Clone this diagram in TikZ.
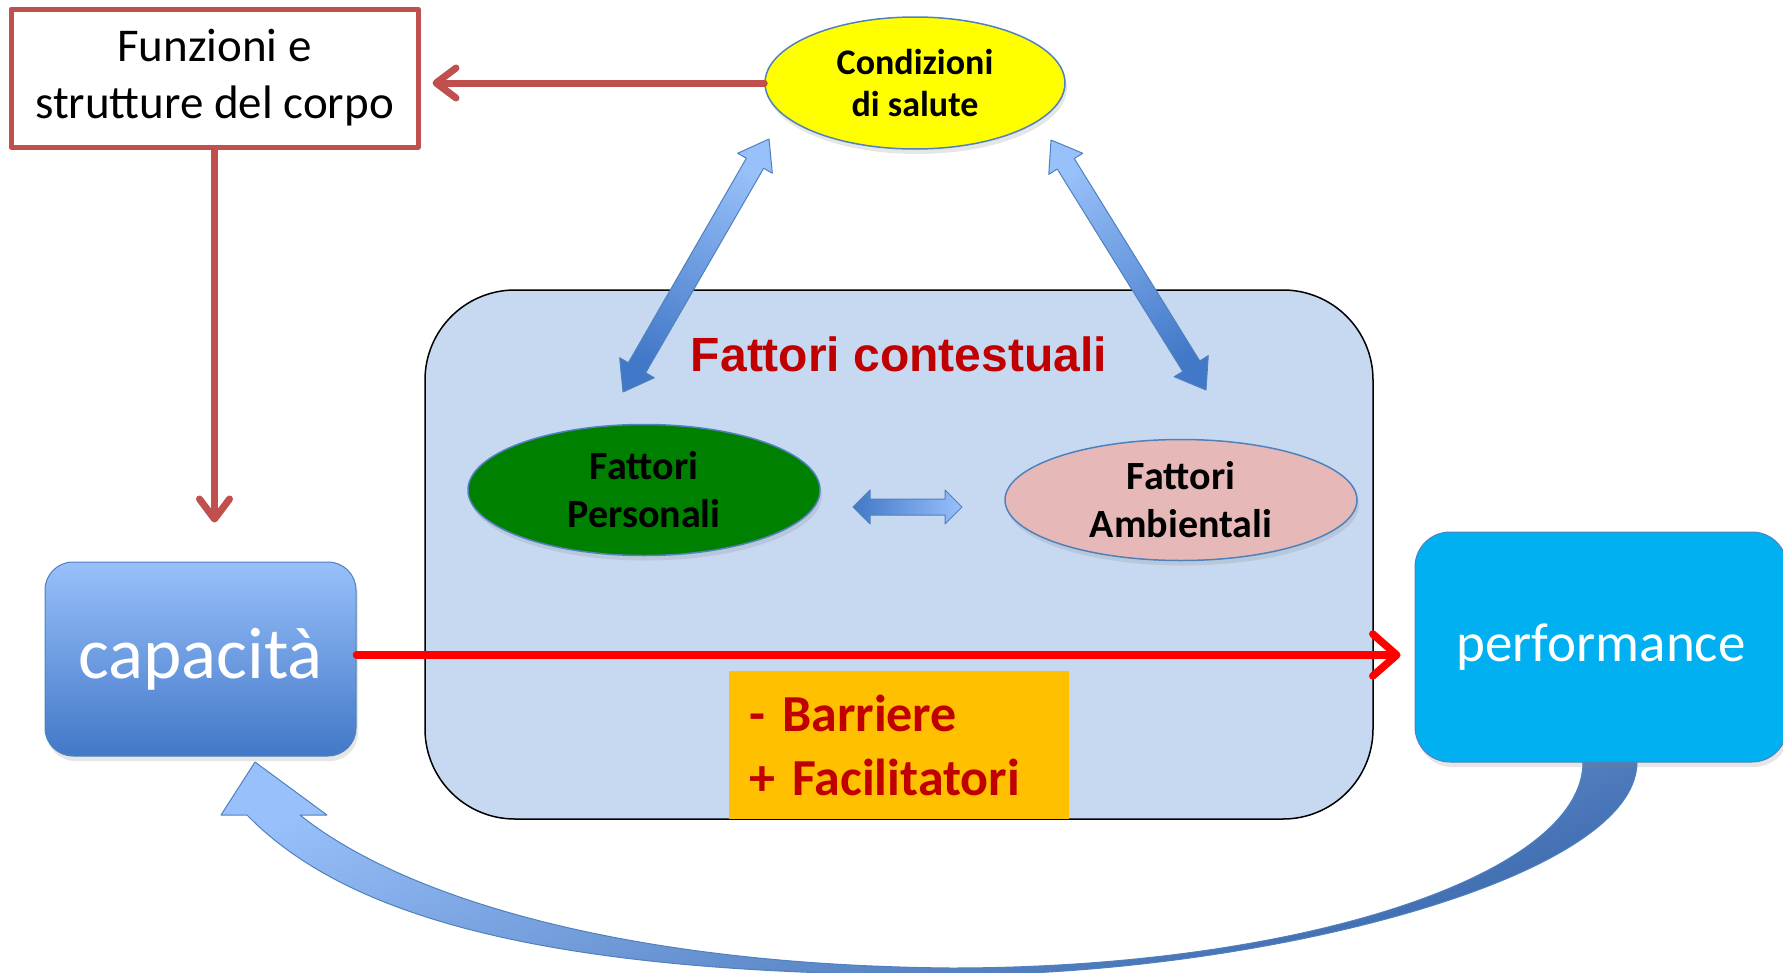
\documentclass[tikz,border=0pt]{standalone}
\usepackage{fontspec}
\setmainfont{Carlito}
\newfontfamily\arialfont{Liberation Sans}
\usetikzlibrary{shapes.geometric,arrows.meta,calc,shadows}
\definecolor{corpored}{RGB}{192,80,77}
\definecolor{bordo}{RGB}{79,129,189}
\definecolor{giallo}{RGB}{255,255,0}
\definecolor{verde}{RGB}{0,128,0}
\definecolor{rosa}{RGB}{230,185,184}
\definecolor{contesto}{RGB}{198,217,241}
\definecolor{rossoscuro}{RGB}{192,0,0}
\definecolor{arancio}{RGB}{255,192,0}
\definecolor{ciano}{RGB}{0,176,240}
\definecolor{bluchiaro}{RGB}{152,192,250}
\definecolor{bluscuro}{RGB}{66,120,200}
% freccia doppia: estremi, lunghezza punta, mezza punta, mezza asta, sfumatura
\newcommand\frecciadoppia[6]{%
  \coordinate (fa) at ($(#1)!#3pt!(#2)$);
  \coordinate (fb) at ($(#2)!#3pt!(#1)$);
  \draw[draw=bordo, line width=1pt, #6] (#1) -- ($(fa)!#4pt!90:(#2)$) -- ($(fa)!#5pt!90:(#2)$) -- ($(fb)!#5pt!-90:(#1)$) -- ($(fb)!#4pt!-90:(#1)$) -- (#2)
    -- ($(fb)!#4pt!90:(#1)$) -- ($(fb)!#5pt!90:(#1)$) -- ($(fa)!#5pt!-90:(#2)$) -- ($(fa)!#4pt!-90:(#2)$) -- cycle;
}
\begin{document}
\begin{tikzpicture}[x=1pt, y=-1pt, line join=round, line cap=round,
  ombra/.style={drop shadow={shadow xshift=2pt, shadow yshift=-5pt, opacity=.2}},
  corpobox/.style={draw=corpored, line width=5pt, fill=white, minimum width=407pt, minimum height=138pt, align=center, font=\fontsize{47}{57}\selectfont},
  ovale/.style={ellipse, draw=bordo, line width=1.5pt, inner sep=0pt, align=center, font=\bfseries\fontsize{40}{48}\selectfont, ombra},
  ctxbox/.style={draw=black, line width=1.5pt, fill=contesto, rounded corners=90pt, minimum width=948pt, minimum height=529pt},
  capbox/.style={draw=bordo, line width=1pt, top color=bluchiaro, bottom color=bluscuro, rounded corners=28pt, minimum width=311pt, minimum height=194pt, text=white, font=\fontsize{73}{88}\selectfont, ombra},
  perfbox/.style={draw=bordo, line width=1pt, fill=ciano, rounded corners=35pt, minimum width=372pt, minimum height=230pt, text=white, font=\fontsize{55}{66}\selectfont, ombra},
  barbox/.style={fill=arancio, text=rossoscuro, minimum width=340pt, minimum height=148pt, text width=300pt, inner xsep=20pt, align=left, font=\bfseries\fontsize{52}{64}\selectfont},
  frecciacorpo/.style={draw=corpored, line width=7pt, -{Straight Barb[length=20pt,width=30pt,round]}},
  frecciarossa/.style={draw=red, line width=7.5pt, -{Straight Barb[length=24pt,width=42pt,round]}}]
\useasboundingbox (0,0) rectangle (1783,972);
% freccia curva da performance a capacita
\draw[draw=bordo, line width=1pt, top color=bluchiaro, bottom color=bluscuro!85!black, shading angle=20] (1637,762) .. controls (1637,879) and (1260,975) .. (951,975) .. controls (566,975) and (352,923) .. (247,815) -- (221,815) -- (255,762) -- (327,815) -- (300,815) .. controls (401,896) and (620,965) .. (951,968) .. controls (1299,968) and (1583,875) .. (1583,762) -- cycle;
\node[ctxbox] (ctx) at (899,554.5) {};
\node[text=rossoscuro, font=\arialfont\bfseries\fontsize{48}{58}\selectfont] (ctxtitolo) at (899,354) {Fattori contestuali};
\node[corpobox] (corpo) at (214.5,78) {Funzioni e\\strutture del corpo};
\node[ovale, fill=giallo, minimum width=300pt, minimum height=132pt, font=\bfseries\fontsize{36}{42}\selectfont] (salute) at (915,83) {Condizioni\\di salute};
\node[ovale, fill=verde, minimum width=352pt, minimum height=131pt] (pers) at (644,490) {Fattori\\Personali};
\node[ovale, fill=rosa, minimum width=352pt, minimum height=121pt] (amb) at (1181,500) {Fattori\\Ambientali};
\coordinate (s1) at (769,139); \coordinate (p1) at (623,392);
\coordinate (s2) at (1051,140); \coordinate (a1) at (1206,390);
\coordinate (pa) at (853,507); \coordinate (ap) at (962,507);
\frecciadoppia{s1}{p1}{28}{20}{10}{top color=bluchiaro, bottom color=bluscuro, shading angle=-30}
\frecciadoppia{s2}{a1}{28}{20}{10}{top color=bluchiaro, bottom color=bluscuro, shading angle=31.5}
\frecciadoppia{pa}{ap}{17}{17}{8}{left color=bluscuro, right color=bluchiaro}
\node[capbox] (cap) at (200.5,659) {capacità};
\node[perfbox] (perf) at (1601,647) {performance};
\node[barbox] (barr) at (899,745) {- Barriere\\+ Facilitatori};
\draw[frecciacorpo, shorten >=12pt] (salute.west) -- (corpo.east |- salute.west);
\draw[frecciacorpo, shorten >=39pt] (corpo.south) -- (corpo.south |- cap.north);
\draw[frecciarossa, shorten >=14pt] ([yshift=4pt]cap.east) -- ([yshift=4pt]cap.east -| perf.west);
\end{tikzpicture}
\end{document}
